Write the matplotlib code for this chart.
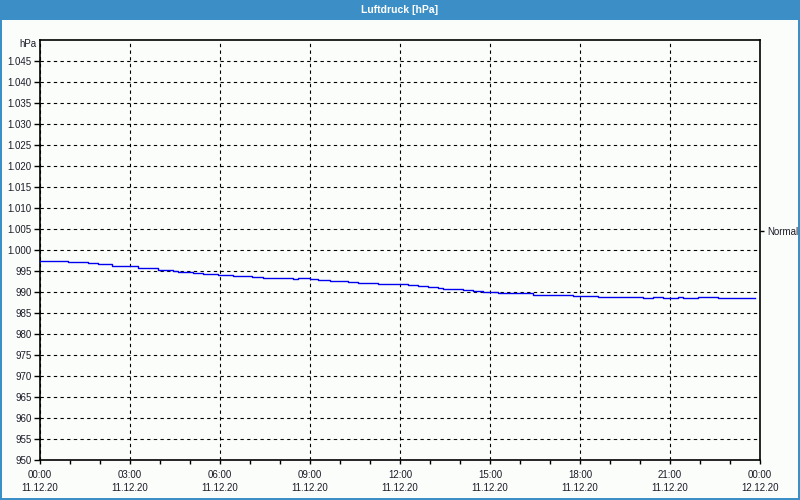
"""Luftdruck day chart (hPa) in the style of a weather station window."""

import matplotlib

matplotlib.use("Agg")
import matplotlib.pyplot as plt
from matplotlib.patches import Rectangle
from matplotlib.ticker import FixedLocator, MultipleLocator

# time in hours since 11.12.20 00:00, pressure in hPa (stepped readings)
hours = [
    0.0, 0.61, 0.94, 1.61, 1.94, 2.39, 3.0, 3.28, 3.61, 3.94, 4.44, 4.61,
    5.11, 5.44, 5.94, 6.44, 7.06, 7.44, 8.44, 8.61, 9.0, 9.28, 9.67, 10.28,
    10.61, 11.28, 12.0, 12.28, 12.61, 12.94, 13.28, 13.44, 14.11, 14.44,
    14.78, 15.28, 16.44, 16.61, 17.78, 18.61, 20.11, 20.44, 20.78, 21.28,
    21.44, 21.94, 22.61, 23.83,
]
pressure = [
    997.5, 997.3, 997.1, 996.8, 996.6, 996.3, 996.1, 995.8, 995.6, 995.2,
    995.1, 994.8, 994.5, 994.3, 994.0, 993.8, 993.6, 993.3, 993.0, 993.3,
    993.2, 992.9, 992.6, 992.4, 992.1, 991.9, 991.8, 991.6, 991.35, 991.1,
    990.9, 990.6, 990.4, 990.2, 989.9, 989.7, 989.4, 989.2, 989.0, 988.7,
    988.5, 988.7, 988.5, 988.7, 988.5, 988.7, 988.5, 988.5,
]

tick_hours = [0, 3, 6, 9, 12, 15, 18, 21, 24]
tick_times = ["00:00", "03:00", "06:00", "09:00", "12:00", "15:00", "18:00", "21:00", "00:00"]
tick_dates = ["11.12.20"] * 8 + ["12.12.20"]
y_ticks = list(range(950, 1050, 5))
normal_level = 1004.5

TITLE_BLUE = "#3b8fc6"
TEXT = "#1c1c28"
BG = "#fbfdfb"

plt.rcParams["font.family"] = ["Liberation Sans", "DejaVu Sans"]

fig = plt.figure(figsize=(8, 5), dpi=100, facecolor=BG)
ax = fig.add_axes([0.05, 0.08, 0.90, 0.84], facecolor=BG)

# window chrome: title bar and thin border
fig.patches.append(Rectangle((0, 0.96), 1, 0.04, transform=fig.transFigure,
                             facecolor=TITLE_BLUE, edgecolor="none", zorder=0))
for rect in [(0, 0, 0.0025, 1), (0.9975, 0, 0.0025, 1), (0, 0, 1, 0.004)]:
    fig.patches.append(Rectangle(rect[:2], rect[2], rect[3], transform=fig.transFigure,
                                 facecolor=TITLE_BLUE, edgecolor="none", zorder=0))
fig.text(0.5, 0.98, "Luftdruck [hPa]", color="white", fontsize=7.5,
         fontweight="bold", ha="center", va="center")

ax.plot(hours, pressure, color="#0000ee", linewidth=1.0, drawstyle="steps-post", zorder=3)

ax.set_xlim(0, 24)
ax.set_ylim(950, 1050)

ax.set_xticks(tick_hours)
ax.set_xticklabels([f"{t}\n{d}" for t, d in zip(tick_times, tick_dates)],
                   fontsize=7, color=TEXT, linespacing=1.45)
ax.xaxis.set_minor_locator(MultipleLocator(1))
ax.set_yticks(y_ticks)
ax.set_yticklabels([f"{v:,}".replace(",", ".") for v in y_ticks], fontsize=7, color=TEXT)
ax.tick_params(axis="x", which="both", length=3, width=1, pad=4, color="black")
ax.tick_params(axis="y", length=4, width=1, pad=2, color="black")

ax.grid(True, which="major", color="black", linestyle=(0, (3, 3)), linewidth=0.8)
for side in ["left", "right", "bottom", "top"]:
    ax.spines[side].set_linewidth(1.2)
    ax.spines[side].set_color("black")

ax.text(-0.005, 1.0 - 4 / 420, "hPa", transform=ax.transAxes, fontsize=7,
        color=TEXT, ha="right", va="center")

right = ax.secondary_yaxis("right")
right.yaxis.set_major_locator(FixedLocator([normal_level]))
right.set_yticklabels(["Normal"], fontsize=7, color=TEXT)
right.tick_params(length=3, width=1, pad=2)
right.spines["right"].set_visible(False)

fig.savefig("out.png", dpi=100, facecolor=BG)
plt.close(fig)
